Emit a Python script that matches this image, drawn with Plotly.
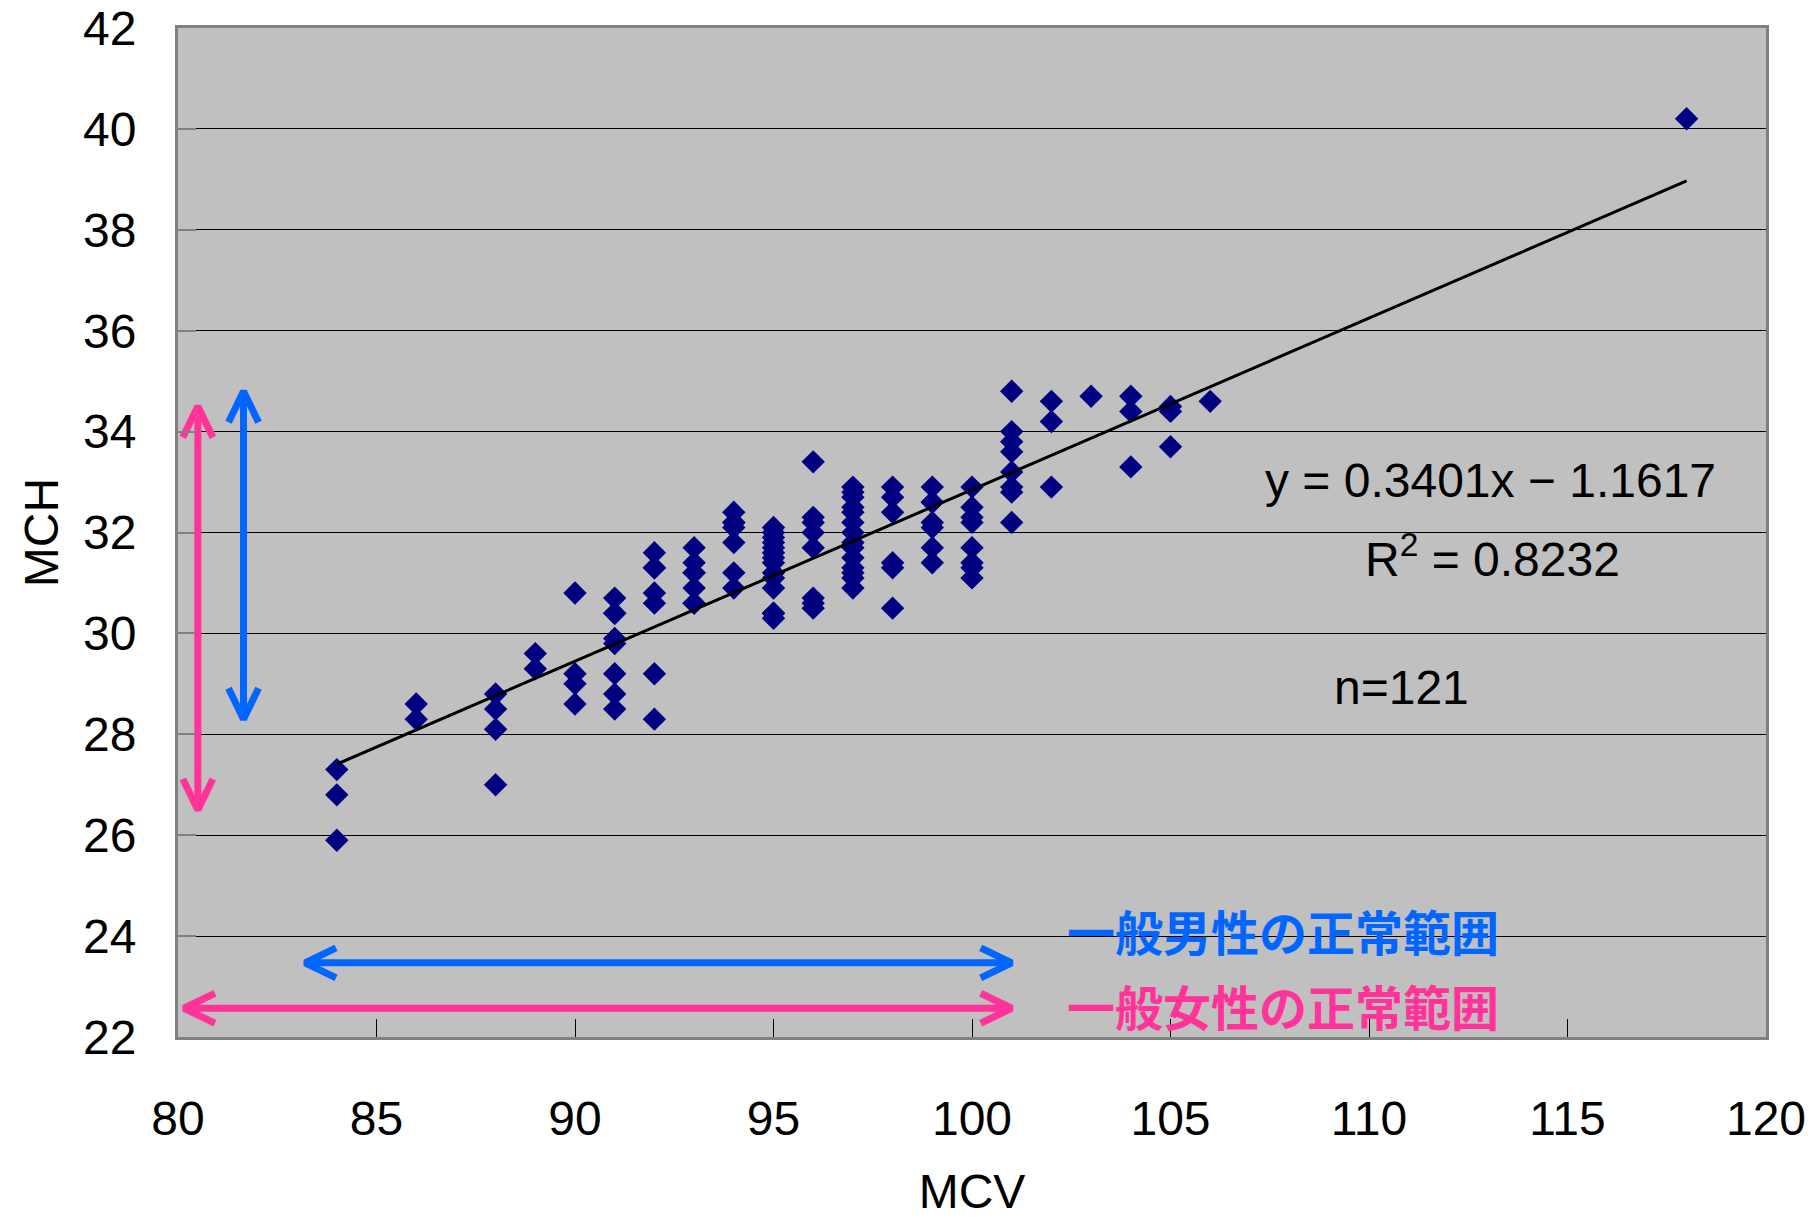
import math
import plotly.graph_objects as go

# ---------------- data ----------------
mcv = ([84]*3 + [86]*2 + [88]*4 + [89]*2 + [90]*4 + [91]*8 + [92]*7 + [93]*7 +
       [94]*7 + [95]*14 + [96]*8 + [97]*14 + [98]*6 + [99]*7 + [100]*8 +
       [101]*8 + [102]*3 + [103]*1 + [104]*3 + [105]*3 + [106]*1 + [118]*1)
mch = [27.3, 26.8, 25.9,
       28.6, 28.3,
       28.8, 28.5, 28.1, 27.0,
       29.6, 29.3,
       30.8, 29.2, 29.0, 28.6,
       30.7, 30.4, 30.4, 29.9, 29.8, 29.2, 28.8, 28.5,
       31.6, 31.3, 31.3, 30.8, 30.6, 29.2, 28.3,
       31.7, 31.4, 31.2, 31.2, 30.9, 30.6, 30.6,
       32.4, 32.2, 32.2, 32.1, 31.8, 31.2, 30.9,
       32.1, 32.0, 31.9, 31.8, 31.7, 31.6, 31.5, 31.4, 31.2, 31.1, 30.9, 30.4, 30.4, 30.3,
       33.4, 32.3, 32.2, 32.0, 31.7, 30.7, 30.6, 30.5,
       32.9, 32.8, 32.7, 32.5, 32.4, 32.2, 32.0, 31.8, 31.7, 31.5, 31.3, 31.2, 31.1, 30.9,
       32.9, 32.7, 32.4, 31.4, 31.3, 30.5,
       32.9, 32.6, 32.6, 32.2, 32.1, 31.7, 31.4,
       32.9, 32.5, 32.3, 32.2, 31.7, 31.4, 31.3, 31.1,
       34.8, 34.0, 33.8, 33.6, 33.2, 32.9, 32.8, 32.2,
       34.6, 34.2, 32.9,
       34.7,
       34.7, 34.4, 33.3,
       34.5, 34.4, 33.7,
       34.6,
       40.2]

trend_slope = 0.3401
trend_intercept = -1.1617
trend_x = [84, 118]
trend_y = [trend_slope * v + trend_intercept for v in trend_x]

x_ticks = [80, 85, 90, 95, 100, 105, 110, 115, 120]
y_ticks = [22, 24, 26, 28, 30, 32, 34, 36, 38, 40, 42]

# normal ranges (start, end) in data units
female_mch_range = [26.5, 34.5]   # vertical pink arrow at x = 80.5
male_mch_range = [28.3, 34.8]     # vertical blue arrow at x = 81.65
male_mcv_range = [83.2, 101.0]    # horizontal blue arrow at y = 23.47
female_mcv_range = [80.15, 101.0] # horizontal pink arrow at y = 22.57

male_label = "一般男性の正常範囲"
female_label = "一般女性の正常範囲"
eq_text = "y = 0.3401x − 1.1617"
r2_text = "R<sup>2</sup> = 0.8232"
n_text = "n=121"

# ---------------- layout geometry ----------------
W, H = 1812, 1218
ML, MR, MT, MB = 178, 46, 28, 181
XR = [80, 120]
YR = [22, 42]
xs = (W - ML - MR) / (XR[1] - XR[0])
ys = (H - MT - MB) / (YR[1] - YR[0])

BLUE = "#0066FF"
PINK = "#FF3399"


def arrow_trace(x0, y0, x1, y1, color, back=31, half=15, width=7):
    dx, dy = (x1 - x0) * xs, (y1 - y0) * ys
    L = math.hypot(dx, dy)
    ux, uy = dx / L, dy / L
    px, py = -uy, ux
    X = [x0, x1, None]
    Y = [y0, y1, None]
    for (tx, ty, sx, sy) in [(x1, y1, ux, uy), (x0, y0, -ux, -uy)]:
        a = (tx - (back * sx - half * px) / xs, ty - (back * sy - half * py) / ys)
        b = (tx - (back * sx + half * px) / xs, ty - (back * sy + half * py) / ys)
        X += [a[0], tx, b[0], None]
        Y += [a[1], ty, b[1], None]
    return go.Scatter(x=X, y=Y, mode="lines", line=dict(color=color, width=width),
                      hoverinfo="skip", showlegend=False)


fig = go.Figure()

fig.add_trace(go.Scatter(
    x=mcv, y=mch, mode="markers",
    marker=dict(symbol="diamond", size=18, color="#000080", line=dict(width=0)),
    showlegend=False, hoverinfo="x+y"))

fig.add_trace(go.Scatter(
    x=trend_x, y=trend_y, mode="lines",
    line=dict(color="black", width=3), showlegend=False, hoverinfo="skip"))

fig.add_trace(arrow_trace(80.5, female_mch_range[0], 80.5, female_mch_range[1], PINK))
fig.add_trace(arrow_trace(81.65, male_mch_range[0], 81.65, male_mch_range[1], BLUE))
fig.add_trace(arrow_trace(male_mcv_range[0], 23.47, male_mcv_range[1], 23.47, BLUE))
fig.add_trace(arrow_trace(female_mcv_range[0], 22.57, female_mcv_range[1], 22.57, PINK))

num_font = "Liberation Sans, Arial, sans-serif"
jp_font = "Noto Sans CJK JP, sans-serif"

annotations = [
    dict(x=113.07, y=33.04, text=eq_text, font=dict(size=48, color="black", family=num_font)),
    dict(x=113.12, y=31.53, text=r2_text, font=dict(size=48, color="black", family=num_font)),
    dict(x=110.83, y=28.92, text=n_text, font=dict(size=48, color="black", family=num_font)),
    dict(x=102.35, y=24.12, text="<b>" + male_label + "</b>", xanchor="left",
         font=dict(size=48, color=BLUE, family=jp_font)),
    dict(x=102.35, y=22.63, text="<b>" + female_label + "</b>", xanchor="left",
         font=dict(size=48, color=PINK, family=jp_font)),
]
for a in annotations:
    a.update(xref="x", yref="y", showarrow=False)

fig.update_layout(
    width=W, height=H,
    margin=dict(l=ML, r=MR, t=MT, b=MB, pad=0, autoexpand=False),
    paper_bgcolor="white", plot_bgcolor="#C0C0C0",
    showlegend=False,
    annotations=annotations,
    font=dict(family=num_font, size=46, color="black"),
)

fig.update_xaxes(
    range=XR, tickvals=x_ticks, ticktext=[str(v) for v in x_ticks],
    showgrid=False, zeroline=False, automargin=False,
    ticks="inside", ticklen=18, tickwidth=1, tickcolor="black",
    showline=True, linecolor="#808080", linewidth=3, mirror=True,
    tickfont=dict(size=48, family=num_font, color="black"),
    ticklabelstandoff=37,
    title=dict(text="MCV", font=dict(size=48, family=num_font, color="black"), standoff=55),
)
fig.update_yaxes(
    range=YR, tickvals=y_ticks, ticktext=[str(v) for v in y_ticks],
    showgrid=True, gridcolor="black", gridwidth=1, zeroline=False, automargin=False,
    ticks="inside", ticklen=18, tickwidth=2, tickcolor="#808080",
    showline=True, linecolor="#808080", linewidth=3, mirror=True,
    tickfont=dict(size=48, family=num_font, color="black"),
    ticklabelstandoff=29,
    title=dict(text="MCH", font=dict(size=48, family=num_font, color="black"), standoff=10),
)

fig.write_html("out.html")
